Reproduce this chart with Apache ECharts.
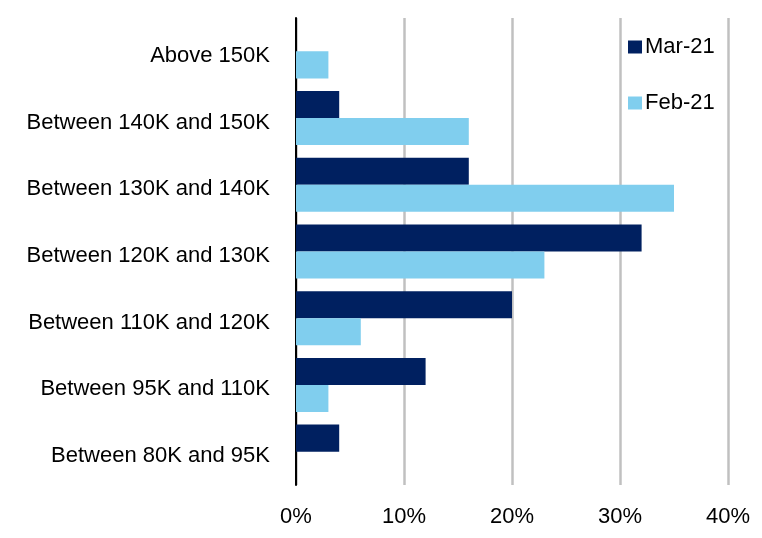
<!DOCTYPE html>
<html>
<head>
<meta charset="utf-8">
<script src="https://cdn.jsdelivr.net/npm/echarts@6/dist/echarts.min.js"></script>
<style>html,body{margin:0;padding:0;background:#fff}#c{width:762px;height:538px}</style>
</head>
<body>
<div id="c"></div>
<script>
const categories = ["Above 150K","Between 140K and 150K","Between 130K and 140K","Between 120K and 130K","Between 110K and 120K","Between 95K and 110K","Between 80K and 95K"];
const mar21 = [0, 4, 16, 32, 20, 12, 4];
const feb21 = [3, 16, 35, 23, 6, 3, 0];
const xTicks = [0, 10, 20, 30, 40];

const font = "'Liberation Sans', Arial, sans-serif";
const chart = echarts.init(document.getElementById('c'));
chart.setOption({
  animation: false,
  textStyle: {fontFamily: font},
  grid: {left: 296, right: 34, top: 18, bottom: 53, containLabel: false},
  legend: {
    orient: 'vertical', left: 623, top: 31,
    itemWidth: 14, itemHeight: 13, itemGap: 34,
    icon: 'rect',
    textStyle: {fontSize: 22, color: '#000', fontFamily: font, lineHeight: 22, padding: [0,0,0,-2]},
    data: ['Mar-21', 'Feb-21']
  },
  xAxis: {
    type: 'value', min: xTicks[0], max: xTicks[xTicks.length-1], interval: 10,
    axisLine: {show: false}, axisTick: {show: false},
    splitLine: {show: true, lineStyle: {color: '#C0C0C0', width: 2.5}},
    axisLabel: {fontSize: 22, color: '#000', margin: 21, fontFamily: font, formatter: v => v + '%'}
  },
  yAxis: {
    type: 'category', data: categories, inverse: true,
    axisLine: {show: true, lineStyle: {color: '#000', width: 2}},
    axisTick: {show: false},
    axisLabel: {
      color: '#000', margin: 26, fontFamily: font,
      formatter: v => '{a|' + v + '}',
      rich: {a: {fontSize: 22, color: '#000', fontFamily: font, lineHeight: 22, padding: [9, 0, 0, 0]}}
    }
  },
  series: [
    {name: 'Mar-21', type: 'bar', data: mar21, barGap: '0%', barCategoryGap: '19%', itemStyle: {color: '#002060'}},
    {name: 'Feb-21', type: 'bar', data: feb21, barGap: '0%', barCategoryGap: '19%', itemStyle: {color: '#80CEEE'}}
  ]
});
</script>
</body>
</html>
